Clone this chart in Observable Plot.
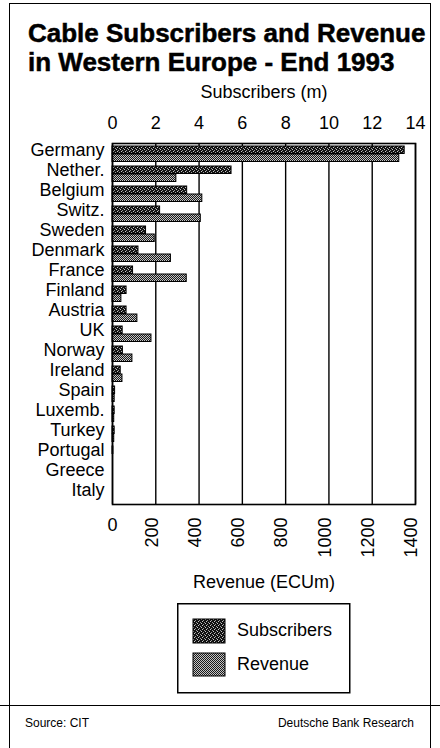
<!DOCTYPE html>
<html>
<head>
<meta charset="utf-8">
<script src="https://cdn.jsdelivr.net/npm/d3@7"></script>
<script src="https://cdn.jsdelivr.net/npm/@observablehq/plot@0.6"></script>
<style>
  html, body { margin: 0; padding: 0; background: #fff; }
  body {
    width: 440px; height: 748px; position: relative; overflow: hidden;
    font-family: "Liberation Sans", Arial, Helvetica, sans-serif; color: #000;
  }
  .abs { position: absolute; }
  #box { left: 9px; top: 3px; width: 420px; height: 800px; border: 1.5px solid #000; }
  #title {
    left: 28px; top: 19px; font-size: 26px; font-weight: bold; line-height: 29px; white-space: nowrap;
    -webkit-text-stroke: 0.5px #000;
  }
  #chart { left: 0; top: 85px; }
  #legend { left: 177px; top: 603px; }
  #rule { left: 0; top: 705px; width: 440px; height: 0; border-top: 1.5px solid #000; }
  .foot { top: 717px; font-size: 12px; line-height: 12px; white-space: nowrap; }
</style>
</head>
<body>
<!-- shared stipple fills for the bars and the legend swatches -->
<svg width="0" height="0" style="position:absolute">
  <defs>
    <pattern id="pat-subs" width="4" height="4" patternUnits="userSpaceOnUse">
      <rect width="4" height="4" fill="#121212"/>
      <rect x="0" y="0" width="1" height="1" fill="#c8c8c8"/>
      <rect x="2" y="1" width="1" height="1" fill="#9a9a9a"/>
      <rect x="1" y="2" width="1" height="1" fill="#c8c8c8"/>
      <rect x="3" y="3" width="1" height="1" fill="#9a9a9a"/>
    </pattern>
    <pattern id="pat-rev" width="2" height="2" patternUnits="userSpaceOnUse">
      <rect width="2" height="2" fill="#c4c4c4"/>
      <rect x="0" y="0" width="1" height="1" fill="#1a1a1a"/>
      <rect x="1" y="1" width="1" height="1" fill="#1a1a1a"/>
    </pattern>
  </defs>
</svg>

<div id="box" class="abs"></div>
<div id="title" class="abs">Cable Subscribers and Revenue<br>in Western Europe - End 1993</div>
<div id="chart" class="abs"></div>

<svg id="legend" class="abs" width="175" height="92">
  <rect x="0.75" y="0.75" width="172" height="89" fill="#fff" stroke="#000" stroke-width="1.5"/>
  <rect x="16" y="16" width="32" height="24" fill="url(#pat-subs)" stroke="#000" stroke-width="1"/>
  <rect x="16" y="50" width="32" height="23" fill="url(#pat-rev)" stroke="#000" stroke-width="1"/>
  <text x="60" y="33" font-size="18" font-family="Liberation Sans, Arial, sans-serif">Subscribers</text>
  <text x="60" y="67" font-size="18" font-family="Liberation Sans, Arial, sans-serif">Revenue</text>
</svg>

<div id="rule" class="abs"></div>
<div class="abs foot" style="left:25px">Source: CIT</div>
<div class="abs foot" style="right:26px">Deutsche Bank Research</div>

<script>
// Cable TV subscribers (millions) and revenue (ECU millions), end of 1993
const countries = ["Germany", "Nether.", "Belgium", "Switz.", "Sweden", "Denmark", "France", "Finland",
  "Austria", "UK", "Norway", "Ireland", "Spain", "Luxemb.", "Turkey", "Portugal", "Greece", "Italy"];
const subscribers = [13.5, 5.5, 3.45, 2.2, 1.55, 1.2, 0.95, 0.65, 0.65, 0.47, 0.48, 0.38, 0.12, 0.1, 0.1, 0.04, 0, 0];
const revenue = [1325, 295, 415, 408, 195, 270, 343, 41, 115, 180, 92, 46, 10, 8, 8, 0, 0, 0];

const subscriberTicks = [0, 2, 4, 6, 8, 10, 12, 14];
const revenueTicks = [0, 200, 400, 600, 800, 1000, 1200, 1400];

// the revenue axis shares the plot width: 1400 ECUm lines up with 14m subscribers
const ECUM_PER_MILLION = 100;

const rows = countries.map((country, i) => ({country, subscribers: subscribers[i], revenue: revenue[i]}));

const chart = Plot.plot({
  width: 440,
  height: 510,
  marginLeft: 112,
  marginRight: 25,
  marginTop: 58,
  marginBottom: 91,
  style: {
    background: "none",
    overflow: "visible",
    fontFamily: "Liberation Sans, Arial, Helvetica, sans-serif",
    fontSize: "18px",
    color: "#000"
  },
  x: {domain: [0, 14]},
  y: {domain: countries, padding: 0},
  marks: [
    Plot.ruleX(subscriberTicks, {stroke: "#000", strokeWidth: 1.4}),
    Plot.barX(rows, {
      y: "country", x: "subscribers",
      fill: "url(#pat-subs)", stroke: "#000", strokeWidth: 1,
      insetTop: 2, insetBottom: 10.5
    }),
    Plot.barX(rows, {
      y: "country", x: (d) => d.revenue / ECUM_PER_MILLION,
      fill: "url(#pat-rev)", stroke: "#000", strokeWidth: 1,
      insetTop: 10, insetBottom: 2.5
    }),
    Plot.frame({stroke: "#000", strokeWidth: 1.6}),
    Plot.axisX(subscriberTicks, {anchor: "top", tickSize: 0, tickPadding: 15, label: null}),
    Plot.axisY({tickSize: 0, tickPadding: 8, dy: -4, label: null}),
    // revenue scale along the bottom: upright zero, the rest turned on their side
    Plot.text(revenueTicks.filter((v) => v > 0), {
      x: (v) => v / ECUM_PER_MILLION, text: (v) => String(v),
      frameAnchor: "bottom", rotate: -90, textAnchor: "end", lineAnchor: "middle",
      dy: 13, dx: -4
    }),
    Plot.text(revenueTicks.filter((v) => v === 0), {
      x: (v) => v / ECUM_PER_MILLION, text: (v) => String(v),
      frameAnchor: "bottom", lineAnchor: "top", dy: 14
    }),
    Plot.text(["Subscribers (m)"], {frameAnchor: "top", lineAnchor: "bottom", dy: -46}),
    Plot.text(["Revenue (ECUm)"], {frameAnchor: "bottom", lineAnchor: "bottom", dy: 83})
  ]
});

document.getElementById("chart").appendChild(chart);
</script>
</body>
</html>
